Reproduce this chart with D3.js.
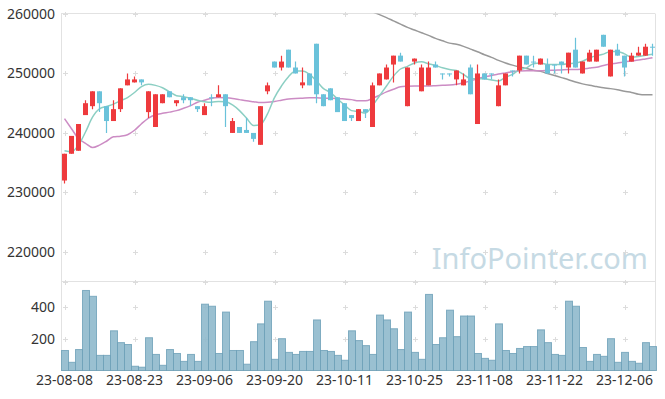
<!DOCTYPE html>
<html>
<head>
<meta charset="utf-8">
<script src="https://cdnjs.cloudflare.com/ajax/libs/d3/7.8.5/d3.min.js"></script>
<style>
  body { margin: 0; background: #fff; }
  .axis text { font-family: "Noto Sans", "Open Sans", sans-serif; font-size: 14px; fill: #333; }
</style>
</head>
<body>
<div id="chart"></div>
<script>
// trading days
var dates = [
  "23-08-08","23-08-09","23-08-10","23-08-11","23-08-14","23-08-16","23-08-17","23-08-18","23-08-21","23-08-22",
  "23-08-23","23-08-24","23-08-25","23-08-28","23-08-29","23-08-30","23-08-31","23-09-01","23-09-04","23-09-05",
  "23-09-06","23-09-07","23-09-08","23-09-11","23-09-12","23-09-13","23-09-14","23-09-15","23-09-18","23-09-19",
  "23-09-20","23-09-21","23-09-22","23-09-25","23-09-26","23-09-27","23-10-04","23-10-05","23-10-06","23-10-10",
  "23-10-11","23-10-12","23-10-13","23-10-16","23-10-17","23-10-18","23-10-19","23-10-20","23-10-23","23-10-24",
  "23-10-25","23-10-26","23-10-27","23-10-30","23-10-31","23-11-01","23-11-02","23-11-03","23-11-06","23-11-07",
  "23-11-08","23-11-09","23-11-10","23-11-13","23-11-14","23-11-15","23-11-16","23-11-17","23-11-20","23-11-21",
  "23-11-22","23-11-23","23-11-24","23-11-27","23-11-28","23-11-29","23-11-30","23-12-01","23-12-04","23-12-05",
  "23-12-06","23-12-07","23-12-08","23-12-11","23-12-12"
];
var tickDates = ["23-08-08","23-08-23","23-09-06","23-09-20","23-10-11","23-10-25","23-11-08","23-11-22","23-12-06"];
var priceTicks = [220000, 230000, 240000, 250000, 260000];
var volumeTicks = [200, 400];

var open = [
  232000,236500,237000,243000,244500,247000,244500,242000,244000,248000,
  248500,249000,243500,241000,245000,247000,245000,246000,246000,244500,
  243000,246000,246000,246500,240000,241000,240500,240000,238000,247000,
  252000,251000,254000,251000,248000,250000,255000,246500,247500,246000,
  245000,243000,242000,244000,241000,248000,249000,251500,253000,244500,
  252000,247000,248000,251500,250000,250000,249000,248000,251000,241500,
  250000,250000,244500,248000,250500,250500,253000,252000,251500,251500,
  251500,252000,251000,254000,250000,252000,252000,256500,249500,254000,
  253000,252000,253000,253000,254500
];
var high = [
  236500,239500,241500,245500,247000,247000,244500,245500,247500,250000,
  249500,249000,247000,246500,246500,247000,245500,246500,246000,244500,
  245000,246500,248000,246500,242500,241000,242500,240000,244500,248500,
  252000,253000,254000,252000,251000,250000,255000,246500,247500,246000,
  245000,243000,244000,244000,248500,250000,251500,253000,253500,251000,
  252500,251500,252000,252000,250000,250000,250500,250000,251500,251500,
  250000,250000,249000,250000,250500,253000,253000,253000,252500,252500,
  251500,252000,253500,256000,252000,254000,254000,256500,254000,255000,
  253000,253500,254500,255000,255000
];
var low = [
  231500,236500,237000,243000,244000,243500,240000,242000,243500,248000,
  248500,248000,242500,241000,245000,246000,244500,245000,244500,243500,
  243000,244500,246000,241000,240000,240000,240000,238500,238000,246500,
  251000,250500,251000,250000,247500,248000,245000,244500,245500,243500,
  242000,242000,242000,242500,241000,248000,249000,248500,252000,244500,
  251500,247000,248000,251000,249000,249500,248000,248000,246500,241500,
  249000,249000,244500,248000,249500,250000,251500,251000,251500,250000,
  250000,250000,250000,251000,250000,252000,252000,254500,249500,253000,
  249500,252000,253000,253000,253000
];
var close = [
  236500,239500,241500,245000,247000,245000,242000,244000,247500,249000,
  249000,248500,247000,246500,246500,246000,245500,245500,245500,244000,
  244500,246000,246500,244500,242000,240000,240000,239000,244500,248000,
  251000,252000,251000,250000,248500,248000,246500,244500,245500,243500,
  242000,242500,244000,243500,248000,250000,251000,253000,252000,251000,
  252500,251000,251000,251000,250000,250000,250500,249000,246500,250000,
  249000,250000,248000,250000,250500,253000,251500,252000,252500,250000,
  251500,251500,253500,251000,252000,253500,254000,254500,254000,253000,
  251000,253000,253500,254500,254500
];
var volume = [
  127,52,133,508,471,96,96,252,177,165,
  27,21,208,102,33,133,108,58,102,58,
  421,408,108,371,127,127,40,183,296,440,
  71,202,115,102,121,121,321,127,121,96,
  65,252,190,158,102,352,321,265,133,371,
  115,71,483,165,208,383,215,346,346,108,
  77,65,296,127,108,140,152,152,258,177,
  102,96,440,408,146,58,102,90,202,52,
  115,58,46,177,152
];
// moving averages as drawn
var ma5 = [
  237000,236850,237950,240150,242650,244050,244450,244850,245400,245950,
  246800,247800,248200,248000,247600,246900,246250,246100,245850,245500,
  245250,245150,245300,245250,244700,243750,242500,241250,241400,243200,
  245950,247900,249450,250400,250400,249850,248750,247450,246800,245700,
  244700,243750,243600,243350,244600,246250,247900,249550,250750,251200,
  251750,251950,251650,251350,250950,250650,250500,249850,249150,249100,
  249100,248900,248750,249350,249850,250650,250950,251650,251750,251500,
  251500,251500,251650,251750,252050,252600,253000,253250,253700,253700,
  253300,252750,252850,253050,253250
];
var ma20 = [
  242400,240700,239050,238250,237550,237950,238600,239350,239450,239700,
  240450,241550,242500,243050,243300,243500,243750,244150,244600,245150,
  245500,245850,245950,245900,245800,245600,245400,245250,245100,245150,
  245300,245500,245700,245800,245850,245900,245900,245850,245850,245800,
  245700,245600,245400,245400,245800,246350,246900,247350,247750,247850,
  247900,247900,247900,247950,248000,248050,248200,248450,248750,249100,
  249400,249650,249900,250100,250300,250400,250450,250450,250450,250500,
  250550,250600,250650,250650,250750,250900,251050,251350,251600,251750,
  251950,252100,252250,252450,252650
];
var ma60 = [
  null,null,null,null,null,null,null,null,null,null,
  null,null,null,null,null,null,null,null,null,null,
  null,null,null,null,null,null,null,null,null,null,
  null,null,null,null,null,null,null,null,null,null,
  null,null,null,null,260350,259900,259400,258850,258300,257750,
  257300,256850,256400,255900,255500,255100,254900,254550,254100,253650,
  253150,252700,252200,251750,251400,251100,250850,250550,250350,250000,
  249650,249300,248950,248550,248250,248000,247800,247600,247450,247250,
  247000,246800,246500,246400,246400
];

var width = 665, height = 399;
var plotLeft = 61, plotRight = 656, plotTop = 13.5, split = 281.5, plotBottom = 370.5;

var data = dates.map(function (d, i) {
  return {date: d, o: open[i], h: high[i], l: low[i], c: close[i], v: volume[i]};
});

var x = d3.scaleBand().domain(dates).range([plotLeft, plotRight]).padding(0);
var yPrice = d3.scaleLinear().domain([215100, 260000]).range([281, 14]);
var yVol = d3.scaleLinear().domain([0, 565]).range([plotBottom, split]);
var cx = function (d) { return x(d) + x.bandwidth() / 2; };

var svg = d3.select("#chart").append("svg")
  .attr("width", width)
  .attr("height", height);

svg.append("defs").append("clipPath").attr("id", "clipPrice")
  .append("rect")
  .attr("x", plotLeft).attr("y", plotTop)
  .attr("width", plotRight - plotLeft).attr("height", split - plotTop);

// watermark
svg.append("text")
  .attr("x", 648).attr("y", 269)
  .attr("text-anchor", "end")
  .style("font-family", "\"Noto Sans\", \"Open Sans\", sans-serif")
  .style("font-size", "29px")
  .style("fill", "#c6dae4")
  .text("InfoPointer.com");

// frame
var frame = svg.append("g").attr("stroke", "#e2e2e2").attr("fill", "none");
frame.append("line").attr("x1", plotLeft).attr("x2", plotRight - 1).attr("y1", plotTop).attr("y2", plotTop);
frame.append("line").attr("x1", plotLeft).attr("x2", plotRight - 1).attr("y1", split).attr("y2", split);
frame.append("line").attr("x1", plotRight - 0.5).attr("x2", plotRight - 0.5).attr("y1", plotTop).attr("y2", plotBottom);
frame.append("line").attr("x1", plotLeft + 0.5).attr("x2", plotLeft + 0.5).attr("y1", plotTop).attr("y2", plotBottom);

// grid crosses
var gridY = priceTicks.map(function (p) { return yPrice(p); })
  .concat(volumeTicks.map(function (v) { return yVol(v); }))
  .concat([split]);
var crosses = svg.append("g").attr("stroke", "#dcdcdc").attr("stroke-width", 1);
tickDates.forEach(function (d) {
  gridY.forEach(function (gy) {
    var px = Math.round(cx(d)) + 0.5, py = Math.round(gy) + 0.5;
    crosses.append("path").attr("d", "M" + (px - 2.5) + "," + py + "H" + (px + 2.5) + "M" + px + "," + (py - 2.5) + "V" + (py + 2.5));
  });
});

// volume bars
svg.append("g").selectAll("rect")
  .data(data)
  .enter()
  .append("rect")
  .attr("x", function (d) { return x(d.date) + 0.5; })
  .attr("width", x.bandwidth())
  .attr("y", function (d) { return yVol(d.v); })
  .attr("height", function (d) { return plotBottom - yVol(d.v); })
  .style("fill", "#8fb9cc")
  .style("fill-opacity", 0.9)
  .style("stroke", "#6c9fb7")
  .style("stroke-opacity", 0.8);

frame.append("line").attr("x1", plotLeft).attr("x2", plotRight - 1).attr("y1", plotBottom).attr("y2", plotBottom).attr("stroke", "#d8d8d8");

// moving averages
var plot = svg.append("g").attr("clip-path", "url(#clipPrice)");
function maLine(values, color) {
  var line = d3.line()
    .defined(function (d) { return d != null; })
    .x(function (d, i) { return cx(dates[i]); })
    .y(function (d) { return yPrice(d); })
    .curve(d3.curveMonotoneX);
  plot.append("path")
    .datum(values)
    .attr("d", line)
    .attr("fill", "none")
    .attr("stroke", color)
    .attr("stroke-width", 1.5);
}
maLine(ma60, "#999999");
maLine(ma20, "#cc8cc4");
maLine(ma5, "#8ccfc3");

// candles
var candle = plot.selectAll("g.candle")
  .data(data)
  .enter()
  .append("g")
  .attr("class", "candle")
  .style("fill", function (d) { return d.c > d.o ? "#ee3a3d" : "#6ac2da"; })
  .style("stroke", function (d) { return d.c > d.o ? "#ee3a3d" : "#6ac2da"; });

candle.append("line")
  .attr("x1", function (d) { return cx(d.date); })
  .attr("x2", function (d) { return cx(d.date); })
  .attr("y1", function (d) { return yPrice(d.h); })
  .attr("y2", function (d) { return yPrice(d.l); })
  .attr("stroke-width", 1.2);

candle.append("rect")
  .attr("x", function (d) { return x(d.date) + 1; })
  .attr("width", x.bandwidth() - 2)
  .attr("y", function (d) { return yPrice(Math.max(d.o, d.c)); })
  .attr("height", function (d) { return Math.max(1, Math.abs(yPrice(d.o) - yPrice(d.c))); })
  .style("stroke", "none");

// axes
svg.append("g")
  .attr("class", "axis")
  .attr("transform", "translate(" + plotLeft + ",0)")
  .call(d3.axisLeft(yPrice).tickValues(priceTicks).tickSize(0).tickPadding(6).tickFormat(d3.format("d")))
  .call(function (g) { g.select(".domain").remove(); });

svg.append("g")
  .attr("class", "axis")
  .attr("transform", "translate(" + plotLeft + ",0)")
  .call(d3.axisLeft(yVol).tickValues(volumeTicks).tickSize(0).tickPadding(6))
  .call(function (g) { g.select(".domain").remove(); });

svg.append("g")
  .attr("class", "axis")
  .attr("transform", "translate(0," + plotBottom + ")")
  .call(d3.axisBottom(x).tickValues(tickDates).tickSize(0).tickPadding(5))
  .call(function (g) { g.select(".domain").remove(); });
</script>
</body>
</html>
